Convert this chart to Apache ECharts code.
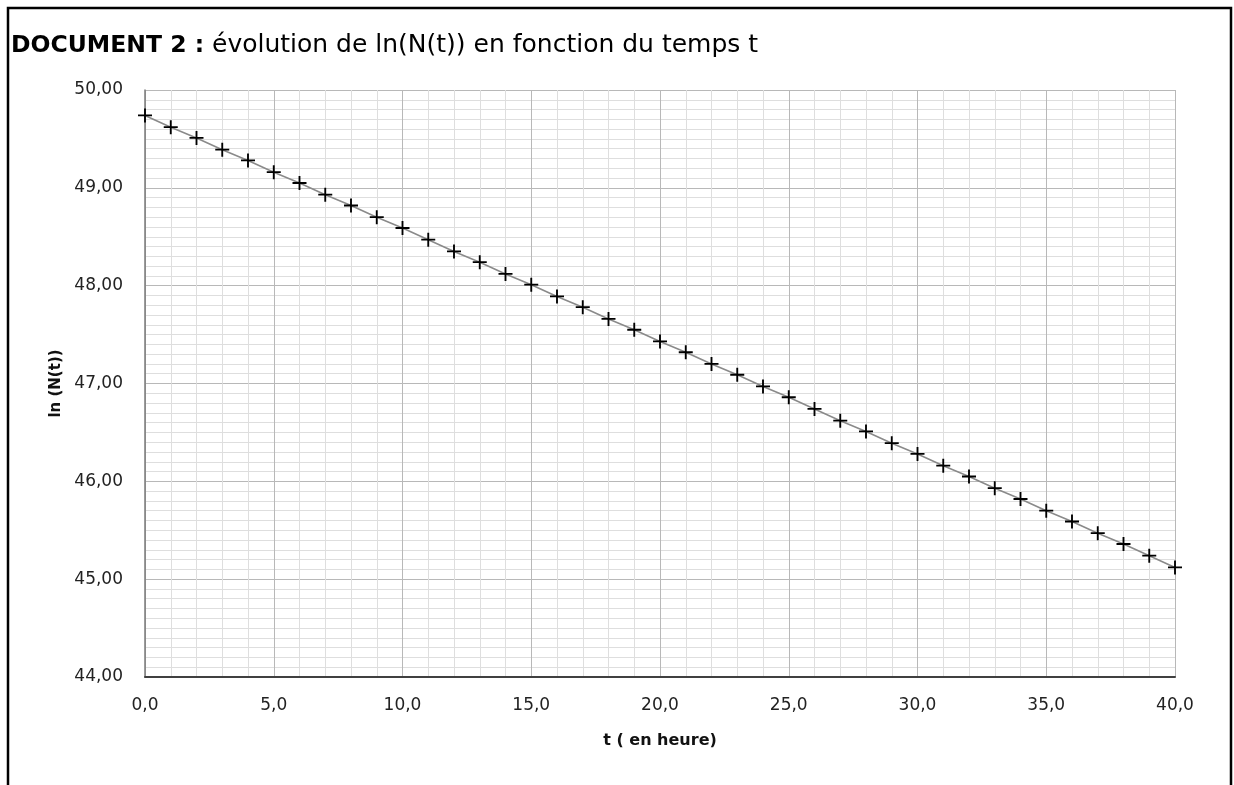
<!DOCTYPE html>
<html>
<head>
<meta charset="utf-8">
<script src="https://cdn.jsdelivr.net/npm/echarts@6/dist/echarts.min.js"></script>
<style>
html,body{margin:0;padding:0;background:#fff;}
#chart{width:1234px;height:785px;}
</style>
</head>
<body>
<div id="chart"></div>
<script>
// Data
const times = [0,1,2,3,4,5,6,7,8,9,10,11,12,13,14,15,16,17,18,19,20,21,22,23,24,25,26,27,28,29,30,31,32,33,34,35,36,37,38,39,40];
const lnN = [49.74,49.62,49.51,49.39,49.28,49.16,49.05,48.93,48.82,48.70,48.59,48.47,48.35,48.24,48.12,48.01,47.89,47.78,47.66,47.55,47.43,47.32,47.20,47.09,46.97,46.86,46.74,46.62,46.51,46.39,46.28,46.16,46.05,45.93,45.82,45.70,45.59,45.47,45.36,45.24,45.12];
const titleBold = 'DOCUMENT 2 :';
const titleRest = ' évolution de ln(N(t)) en fonction du temps t';
const xName = 't ( en heure)';
const yName = 'ln (N(t))';

const points = times.map((t, i) => [t, lnN[i]]);

const chart = echarts.init(document.getElementById('chart'), null, {renderer: 'canvas'});
chart.setOption({
  animation: false,
  backgroundColor: '#fff',
  title: {
    text: '{b|' + titleBold + '}{n|' + titleRest + '}',
    left: 11, top: 33, padding: 0,
    textStyle: {
      rich: {
        b: {fontFamily: 'DejaVu Sans', fontWeight: 'bold', fontSize: 23.5, color: '#000'},
        n: {fontFamily: 'DejaVu Sans', fontWeight: 'normal', fontSize: 25, color: '#000'}
      }
    }
  },
  graphic: [{
    type: 'polyline',
    shape: {points: [[8, 790], [8, 8], [1231, 8], [1231, 790]]},
    style: {stroke: '#000', lineWidth: 2.5, fill: null},
    silent: true
  }],
  grid: {left: 145, right: 59, top: 90, bottom: 108, containLabel: false},
  xAxis: {
    type: 'value', min: 0, max: 40, interval: 5,
    name: xName, nameLocation: 'middle', nameGap: 56,
    nameTextStyle: {fontFamily: 'DejaVu Sans', fontWeight: 'bold', fontSize: 16, color: '#111'},
    axisLine: {show: true, onZero: false, lineStyle: {color: '#404040', width: 2}},
    axisTick: {show: false},
    axisLabel: {margin: 20, fontFamily: 'DejaVu Sans', fontSize: 17, color: '#222',
      formatter: v => v.toFixed(1).replace('.', ',')},
    splitLine: {show: true, lineStyle: {color: '#b8b8b8', width: 1}},
    minorTick: {show: false, splitNumber: 5},
    minorSplitLine: {show: true, lineStyle: {color: '#dedede', width: 1}}
  },
  yAxis: {
    type: 'value', min: 44, max: 50, interval: 1,
    name: yName, nameLocation: 'middle', nameGap: 80, nameRotate: 90,
    nameTextStyle: {fontFamily: 'DejaVu Sans', fontWeight: 'bold', fontSize: 15, color: '#111'},
    axisLine: {show: true, onZero: false, lineStyle: {color: '#7a7a7a', width: 1.5}},
    axisTick: {show: false},
    axisLabel: {margin: 22, fontFamily: 'DejaVu Sans', fontSize: 17, color: '#222',
      formatter: v => v.toFixed(2).replace('.', ',')},
    splitLine: {show: true, lineStyle: {color: '#b8b8b8', width: 1}},
    minorTick: {show: false, splitNumber: 10},
    minorSplitLine: {show: true, lineStyle: {color: '#dedede', width: 1}}
  },
  series: [{
    type: 'line',
    data: points,
    showSymbol: true,
    symbol: 'path://M5.2,0 H6.8 V12 H5.2 Z M0,5.2 H12 V6.8 H0 Z',
    symbolSize: 14,
    itemStyle: {color: '#000'},
    lineStyle: {color: '#8a8a8a', width: 1.6},
    z: 3
  }]
});
</script>
</body>
</html>
